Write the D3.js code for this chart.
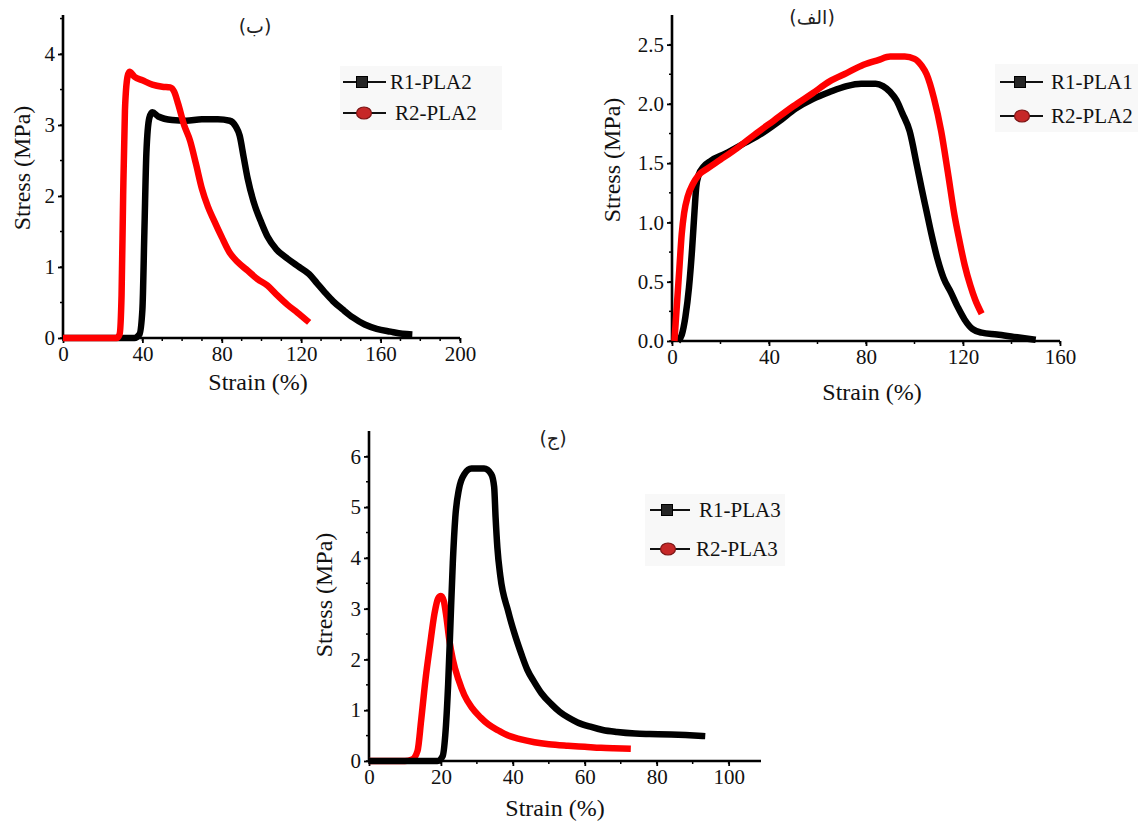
<!DOCTYPE html>
<html><head><meta charset="utf-8">
<script src="https://cdn.jsdelivr.net/npm/d3@7"></script>
<style>
html,body{margin:0;padding:0;background:#fff;}
svg{display:block;}
svg text{font-family:"Liberation Serif","Times New Roman",serif !important;}
svg text.ar{font-family:"DejaVu Sans",sans-serif !important;}
</style></head>
<body>
<script>
// ---------- DATA ----------
// Panel (ب): strain (%) vs stress (MPa)
const panelB_R1 = [[0,0],[36,0],[38.5,0.05],[40,0.4],[41,1.5],[42,2.6],[43.5,3.1],[45,3.18],[48,3.12],[55,3.07],[62,3.06],[70,3.08],[78,3.08],[84,3.06],[87,2.98],[89,2.85],[91,2.55],[93,2.25],[96,1.92],[100,1.62],[103,1.43],[107.5,1.25],[113,1.12],[119,1.0],[124,0.9],[128,0.77],[132,0.64],[136,0.52],[141,0.4],[146,0.29],[152,0.19],[158,0.13],[165,0.09],[171,0.06],[176,0.05]];
const panelB_R2 = [[0,0],[27,0],[28.5,0.05],[29.5,0.6],[30.3,2.0],[31.2,3.2],[32.5,3.68],[33.5,3.75],[36,3.68],[40,3.63],[45,3.57],[50,3.54],[54,3.53],[56,3.47],[58,3.3],[61,3.0],[64,2.78],[67,2.45],[70,2.1],[73,1.85],[76,1.66],[80,1.42],[84,1.2],[88,1.07],[93,0.95],[98,0.83],[103,0.74],[108,0.6],[113,0.47],[118,0.36],[124,0.22]];
// Panel (الف)
const panelA_R1 = [[2.5,0],[4,0.05],[5.5,0.2],[7,0.45],[8.3,0.78],[9.3,1.1],[10,1.3],[11,1.4],[13,1.47],[16,1.52],[22,1.58],[30,1.67],[37,1.75],[44,1.85],[51,1.96],[58,2.04],[65,2.1],[72,2.15],[78,2.17],[84,2.17],[87,2.15],[90,2.1],[92.6,2.03],[95,1.92],[98,1.77],[101,1.48],[103,1.28],[105,1.09],[107,0.9],[109.5,0.69],[112,0.53],[115,0.41],[118,0.28],[120.7,0.18],[124,0.1],[127.7,0.07],[134,0.055],[141,0.035],[150,0.01]];
const panelA_R2 = [[1,0],[2,0.3],[3,0.6],[4,0.9],[5,1.08],[6.5,1.22],[8.5,1.32],[11,1.4],[15,1.46],[20,1.53],[27,1.63],[34,1.74],[42,1.86],[50,1.98],[58,2.09],[65,2.19],[72,2.26],[79,2.33],[85,2.37],[90,2.4],[96,2.4],[100,2.38],[103,2.32],[105,2.25],[108,2.05],[111,1.77],[113.7,1.43],[116.5,1.06],[118.5,0.85],[120.7,0.64],[123,0.47],[125,0.35],[127.7,0.23]];
// Panel (ج)
const panelC_R1 = [[0,0],[19,0],[20.5,0.1],[21.2,0.5],[22,1.5],[22.7,2.8],[23.3,3.9],[24,4.8],[25,5.35],[26.5,5.65],[28.5,5.76],[32,5.76],[34,5.65],[34.8,5.4],[35.2,4.8],[35.7,4.2],[36.5,3.65],[38.7,2.95],[40.5,2.5],[42.4,2.1],[44,1.8],[46,1.55],[48,1.33],[50.7,1.12],[53,0.97],[55.3,0.86],[58,0.76],[61.8,0.67],[65,0.61],[69,0.57],[74,0.54],[78,0.53],[84,0.52],[88,0.51],[93.5,0.49]];
const panelC_R2 = [[0,0],[10,0],[12,0.03],[13.5,0.2],[14.5,0.8],[15.7,1.6],[17,2.3],[18.2,2.9],[19.2,3.2],[20,3.25],[20.8,3.15],[21.5,2.85],[22.3,2.4],[23.3,2.0],[24.9,1.6],[26.5,1.3],[28.6,1.05],[31,0.86],[33.2,0.72],[36,0.6],[38.7,0.5],[42,0.43],[46,0.37],[50,0.33],[55.3,0.3],[60,0.28],[64.5,0.26],[68,0.25],[72.8,0.24]];

// Tick values
const panelB_xTicks = [0,40,80,120,160,200];
const panelB_yTicks = [0,1,2,3,4];
const panelA_xTicks = [0,40,80,120,160];
const panelA_yTicks = [0,0.5,1.0,1.5,2.0,2.5];
const panelC_xTicks = [0,20,40,60,80,100];
const panelC_yTicks = [0,1,2,3,4,5,6];

// Labels
const panelTitles = ["(ب)","(الف)","(ج)"];
const panelB_legend = ["R1-PLA2","R2-PLA2"];
const panelA_legend = ["R1-PLA1","R2-PLA2"];
const panelC_legend = ["R1-PLA3","R2-PLA3"];
const xTitle = "Strain (%)";
const yTitle = "Stress (MPa)";

// ---------- DRAW ----------
const W = 1138, H = 821;
const svg = d3.select("body").append("svg").attr("width", W).attr("height", H);
const SERIF = "Liberation Serif";

function panel(cfg) {
  const x = d3.scaleLinear().domain(cfg.xDomain).range([cfg.left, cfg.right]);
  const y = d3.scaleLinear().domain(cfg.yDomain).range([cfg.bottom, cfg.top]);
  const g = svg.append("g");

  // faint legend background
  g.append("rect").attr("x", cfg.legend.bx).attr("y", cfg.legend.by)
    .attr("width", cfg.legend.bw).attr("height", cfg.legend.bh)
    .attr("fill", "#f8f8f8");

  // minor ticks
  const xMinor = d3.range(cfg.xDomain[0], cfg.xDomain[1] + 1e-9, cfg.xMinor);
  const yMinor = d3.range(0, cfg.yDomain[1], cfg.yMinor);
  g.selectAll(".xm").data(xMinor).join("line")
    .attr("x1", d => x(d)).attr("x2", d => x(d))
    .attr("y1", cfg.bottom).attr("y2", cfg.bottom + 3)
    .attr("stroke", "#000").attr("stroke-width", 1.5);
  g.selectAll(".ym").data(yMinor).join("line")
    .attr("x1", cfg.left - 3).attr("x2", cfg.left)
    .attr("y1", d => y(d)).attr("y2", d => y(d))
    .attr("stroke", "#000").attr("stroke-width", 1.5);

  const xAxis = g.append("g").attr("transform", `translate(0,${cfg.bottom})`)
    .call(d3.axisBottom(x).tickValues(cfg.xTicks).tickSize(5).tickPadding(3).tickSizeOuter(0).tickFormat(cfg.xFmt));
  const yAxis = g.append("g").attr("transform", `translate(${cfg.left},0)`)
    .call(d3.axisLeft(y).tickValues(cfg.yTicks).tickSize(5).tickPadding(cfg.yPad).tickSizeOuter(0).tickFormat(cfg.yFmt));
  [xAxis, yAxis].forEach(a => {
    a.attr("font-family", SERIF).attr("font-size", 21);
    a.select(".domain").attr("stroke", "#000").attr("stroke-width", 2.6);
    a.selectAll(".tick line").attr("stroke", "#000").attr("stroke-width", 1.8);
    a.selectAll(".tick text").attr("font-family", SERIF).attr("font-size", 21).attr("fill", "#111");
  });
  yAxis.select(".domain").attr("d", `M0,${cfg.bottom}V${cfg.top}`);
  xAxis.select(".domain").attr("d", `M${cfg.left},0H${cfg.right}`);

  // series lines
  const line = d3.line().x(d => x(d[0])).y(d => y(d[1])).curve(d3.curveMonotoneX);
  cfg.series.forEach(s => {
    g.append("path").datum(s.data).attr("d", line)
      .attr("fill", "none").attr("stroke", s.color).attr("stroke-width", 6.5)
      .attr("stroke-linejoin", "round").attr("stroke-linecap", "butt");
  });

  // axis titles
  g.append("text").attr("x", cfg.xTitle[0]).attr("y", cfg.xTitle[1])
    .attr("text-anchor", "middle").attr("font-family", SERIF).attr("font-size", 24)
    .attr("fill", "#111").text(xTitle);
  g.append("text").attr("transform", `translate(${cfg.yTitle[0]},${cfg.yTitle[1]}) rotate(-90)`)
    .attr("text-anchor", "middle").attr("font-family", SERIF).attr("font-size", 24)
    .attr("fill", "#111").text(yTitle);

  // panel title
  g.append("text").attr("class", "ar").attr("x", cfg.title[0]).attr("y", cfg.title[1])
    .attr("text-anchor", "middle").attr("font-size", 19).attr("fill", "#222").text(cfg.titleText);

  // legend
  const L = cfg.legend;
  cfg.legendNames.forEach((name, i) => {
    const ly = L.y[i];
    g.append("line").attr("x1", L.x1).attr("x2", L.x2).attr("y1", ly).attr("y2", ly)
      .attr("stroke", "#111").attr("stroke-width", 2);
    if (i === 0) {
      g.append("rect").attr("x", L.mx[i] - 5.5).attr("y", ly - 5.5).attr("width", 11).attr("height", 11)
        .attr("fill", "#262626").attr("stroke", "#000").attr("stroke-width", 1);
    } else {
      g.append("ellipse").attr("cx", L.mx[i]).attr("cy", ly).attr("rx", 7.5).attr("ry", 6)
        .attr("fill", "#c62828").attr("stroke", "#7a1414").attr("stroke-width", 1.2);
    }
    g.append("text").attr("x", L.tx[i]).attr("y", ly).attr("dy", "0.35em")
      .attr("font-family", SERIF).attr("font-size", 21).attr("fill", "#111").text(name);
  });
}

const f0 = d3.format("d"), f1 = d3.format(".1f");

panel({
  xDomain: [0, 200], yDomain: [0, 4.55], left: 63, right: 460, top: 15, bottom: 338,
  xTicks: panelB_xTicks, yTicks: panelB_yTicks, xMinor: 10, yMinor: 0.5, xFmt: f0, yFmt: f0, yPad: 3,
  series: [{data: panelB_R1, color: "#000"}, {data: panelB_R2, color: "#ff0000"}],
  xTitle: [258, 390], yTitle: [30, 168], title: [255, 33], titleText: panelTitles[0],
  legendNames: panelB_legend,
  legend: {bx: 340, by: 66, bw: 162, bh: 64, x1: 343, x2: 386, y: [82, 113], mx: [362, 364], tx: [390, 395]}
});

panel({
  xDomain: [0, 160], yDomain: [0, 2.75], left: 672, right: 1060, top: 15, bottom: 341,
  xTicks: panelA_xTicks, yTicks: panelA_yTicks, xMinor: 20, yMinor: 0.25, xFmt: f0, yFmt: f1, yPad: 3,
  series: [{data: panelA_R1, color: "#000"}, {data: panelA_R2, color: "#ff0000"}],
  xTitle: [872, 400], yTitle: [620, 160], title: [812, 24], titleText: panelTitles[1],
  legendNames: panelA_legend,
  legend: {bx: 995, by: 64, bw: 143, bh: 68, x1: 1000, x2: 1043, y: [82, 116], mx: [1020, 1022], tx: [1051, 1051]}
});

panel({
  xDomain: [0, 109], yDomain: [0, 6.5], left: 369, right: 761, top: 431, bottom: 761,
  xTicks: panelC_xTicks, yTicks: panelC_yTicks, xMinor: 10, yMinor: 0.5, xFmt: f0, yFmt: f0, yPad: 3,
  series: [{data: panelC_R2, color: "#ff0000"}, {data: panelC_R1, color: "#000"}],
  xTitle: [555, 816], yTitle: [332, 595], title: [553, 445], titleText: panelTitles[2],
  legendNames: panelC_legend,
  legend: {bx: 645, by: 494, bw: 140, bh: 72, x1: 650, x2: 690, y: [510, 549], mx: [667, 668], tx: [699, 696]}
});
</script>
</body></html>
